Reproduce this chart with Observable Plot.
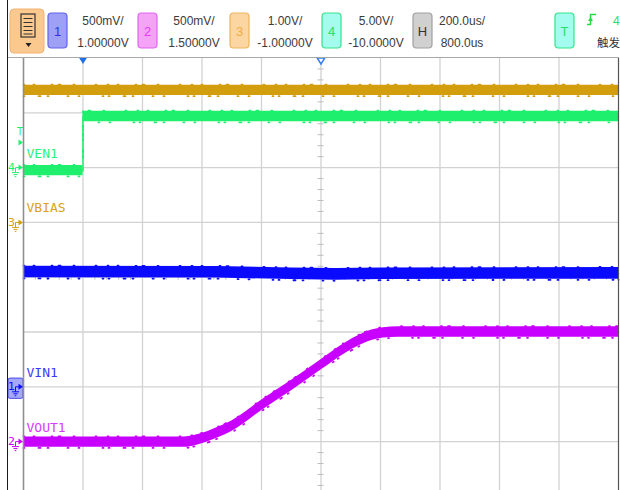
<!DOCTYPE html>
<html>
<head>
<meta charset="utf-8">
<script src="https://cdn.jsdelivr.net/npm/d3@7"></script>
<script src="https://cdn.jsdelivr.net/npm/@observablehq/plot@0.6"></script>
<style>
  html, body { margin: 0; padding: 0; background: #fff; overflow: hidden; }
  #scope { position: relative; width: 620px; height: 490px; background: #fff; }
  #head { position: absolute; left: 0; top: 0; }
  #screen { position: absolute; left: 0; top: 57px; }
  .edge-v { position: absolute; left: 7px; top: 0; width: 1px; height: 490px; background: #1a1a1a; }
  .edge-h { position: absolute; left: 8px; top: 57px; width: 610px; height: 1px; background: #a8a8a8; }
</style>
</head>
<body>
<div id="scope">
  <div id="head"></div>
  <div id="screen"></div>
  <div class="edge-v"></div>
  <div class="edge-h"></div>
</div>
<script>
// ---- channel setup ----
const channelIds   = [1, 2, 3, 4];
const channelNames = ["VIN1", "VOUT1", "VBIAS", "VEN1"];
const voltsPerDiv  = [0.5, 0.5, 1.0, 5.0];
const centerVolts  = [1.0, 1.5, -1.0, -10.0];
const traceColors  = ["#0a0aff", "#c800ff", "#d29e0e", "#1ef06e"];
const labelColors  = ["#3c3cff", "#d43cff", "#d8a21a", "#30ef7c"];
const boxFills     = ["#9da0f5", "#f4a3f7", "#fbd5a2", "#a4fcee"];
const boxStrokes   = ["#6262e6", "#e066f0", "#edb55e", "#34e38a"];
const boxText      = ["#3030e0", "#e040f0", "#f0ae48", "#25de6d"];
const bandHalfPx   = [5.8, 5.2, 5.2, 5.2];

// ---- timebase and trigger ----
const usPerDiv = 200;
const delayUs = 800;
const triggerChannel = 4;
const triggerVolts = 2.3;

// ---- captured traces: [time in µs after trigger, volts] ----
const traceVin1  = [[-200, 1.047], [450, 1.045], [700, 1.031], [850, 1.026], [1000, 1.031], [1800, 1.035]];
const traceVout1 = [[-200, -0.005], [340, -0.005], [380, 0.012], [420, 0.045], [460, 0.09], [500, 0.14],
                    [600, 0.33], [700, 0.51], [800, 0.70], [880, 0.85], [930, 0.925], [970, 0.97],
                    [1010, 0.992], [1060, 1.0], [1800, 1.0]];
const traceVbias = [[-200, 2.41], [1800, 2.41]];
const traceVen1  = [[-200, -0.28], [0, -0.28], [0, 4.66], [1800, 4.66]];
const traces = [traceVin1, traceVout1, traceVbias, traceVen1];

// ---- screen geometry ----
const W = 620, H = 433, mTop = 0.5, mLeft = 23, mRight = 2, divPx = 54.8;
const yMin = 4 - (H - mTop) / divPx;
const tMin = delayUs - 5 * usPerDiv, tMax = delayUs + 5 * usPerDiv;
const toDiv = (i, v) => (v - centerVolts[i]) / voltsPerDiv[i];

const rows = traces.map((tr, i) => tr.map(([t, v]) => ({t, div: toDiv(i, v)})));
const markers = channelIds.map((id, i) => ({
  id, name: channelNames[i], color: traceColors[i], label: labelColors[i], g: toDiv(i, 0)
}));
const trigDiv = toDiv(triggerChannel - 1, triggerVolts);

// little glyphs for the screen edge
const groundSymbol = { draw(c) {
  c.moveTo(4, 0); c.lineTo(0, 0); c.lineTo(0, 5);
  c.moveTo(-3.5, 5); c.lineTo(3.5, 5);
  c.moveTo(-2, 7); c.lineTo(2, 7);
  c.moveTo(-0.8, 9); c.lineTo(0.8, 9);
}};
const rightTri = { draw(c) { c.moveTo(-2, -3); c.lineTo(2.5, 0); c.lineTo(-2, 3); c.closePath(); } };
const downTri  = { draw(c) { c.moveTo(-3.8, 0); c.lineTo(3.8, 0); c.lineTo(0, 6); c.closePath(); } };

// acquisition noise: a solid core band with sparse spikes along both edges
const spikeTop = "1 9 1 17 1 6 2 13 1 21 1 11";
const spikeBottom = "1 14 2 7 1 19 1 10 1 23 1 5";
const band = (i, curve) => {
  const h = bandHalfPx[i] / divPx;
  return [
    Plot.areaY(rows[i], {x: "t", y1: d => d.div - h, y2: d => d.div + h, fill: traceColors[i], curve}),
    Plot.line(rows[i], {x: "t", y: "div", dy: -bandHalfPx[i] - 0.6, stroke: traceColors[i], strokeWidth: 1.8,
      strokeDasharray: spikeTop, curve}),
    Plot.line(rows[i], {x: "t", y: "div", dy: bandHalfPx[i] + 0.6, stroke: traceColors[i], strokeWidth: 1.8,
      strokeDasharray: spikeBottom, curve}),
    Plot.line(rows[i], {x: "t", y: "div", stroke: traceColors[i], strokeWidth: 1.5, curve})
  ];
};

const minorY = d3.range(-19, 20).filter(k => k % 5 !== 0).map(k => k / 5);
const minorX = d3.range(-24, 25).filter(k => k % 5 !== 0).map(k => delayUs + k * usPerDiv / 5);

const screen = Plot.plot({
  width: W, height: H,
  marginTop: mTop, marginLeft: mLeft, marginRight: mRight, marginBottom: 0,
  x: {domain: [tMin, tMax], axis: null},
  y: {domain: [yMin, 4], axis: null},
  style: {background: "white", overflow: "visible"},
  marks: [
    Plot.ruleX(d3.range(tMin + usPerDiv, tMax, usPerDiv), {stroke: "#d2d2d2", strokeWidth: 1.3}),
    Plot.ruleY(d3.range(-3, 4), {stroke: "#d2d2d2", strokeWidth: 1.3}),
    Plot.ruleY(minorY, {x1: delayUs, x2: delayUs, insetLeft: -3, insetRight: -3, stroke: "#bdbdbd"}),
    Plot.ruleX(minorX, {y1: 0, y2: 0, insetTop: -3, insetBottom: -3, stroke: "#bdbdbd"}),
    ...band(2, "linear"),
    ...band(3, "linear"),
    ...band(0, "linear"),
    ...band(1, "monotone-x"),
    // channel names
    Plot.text(markers, {x: tMin, y: "g", text: "name", dx: 3, dy: -10, textAnchor: "start", lineAnchor: "bottom",
      fill: "label", fontSize: 13, fontFamily: "DejaVu Sans Mono"}),
    // selected channel highlight
    Plot.rect(markers.filter(d => d.id === 1), {x1: tMin, x2: tMin, y1: d => d.g - 0.22, y2: d => d.g + 0.15,
      insetLeft: -15, insetRight: 0, fill: "#a5a8f7", stroke: "#4a4ae8", rx: 2}),
    // ground markers
    Plot.text(markers, {x: tMin, y: "g", text: d => String(d.id), dx: -12, fill: "color", fontSize: 11,
      fontFamily: "DejaVu Sans"}),
    Plot.dot(markers, {x: tMin, y: "g", dx: -3, symbol: rightTri, fill: "color", stroke: "none"}),
    Plot.dot(markers, {x: tMin, y: "g", dx: -8, symbol: groundSymbol, fill: "none", stroke: "color", strokeWidth: 1}),
    // trigger level
    Plot.text([trigDiv], {x: tMin, y: d => d, text: ["T"], dx: -3.5, dy: -11, fill: traceColors[3], fontSize: 10,
      fontFamily: "DejaVu Sans"}),
    Plot.dot([trigDiv], {x: tMin, y: d => d, dx: -3, symbol: rightTri, fill: traceColors[3], stroke: "none"}),
    // trigger time and delay markers
    Plot.dot([0], {x: d => d, frameAnchor: "top", symbol: downTri, fill: "#1f6feb", stroke: "none"}),
    Plot.dot([delayUs], {x: d => d, frameAnchor: "top", symbol: downTri, fill: "white", stroke: "#3a7ff2", strokeWidth: 1.5}),
    // screen border
    Plot.ruleX([tMin], {stroke: "#8f8f8f", strokeWidth: 1.6}),
    Plot.ruleX([tMax], {stroke: "#555", strokeWidth: 1.2})
  ]
});
document.getElementById("screen").appendChild(screen);

// ---- status bar ----
const fmtScale = v => v < 1 ? `${v * 1000}mV/` : `${v.toFixed(2)}V/`;
const fmtOffset = v => `${v.toPrecision(6)}V`;
const boxX = [48, 138, 230, 322];
const textX = [103, 194, 285, 376];
const head = d3.create("svg").attr("width", 620).attr("height", 57)
  .style("font-family", "'Liberation Sans', Arial, sans-serif").style("font-size", "12px");

// menu button
const menu = head.append("g");
menu.append("rect").attr("x", 10).attr("y", 9).attr("width", 34).attr("height", 44).attr("rx", 4)
  .attr("fill", "#fbc88e").attr("stroke", "#efb374");
menu.append("rect").attr("x", 21).attr("y", 14).attr("width", 14).attr("height", 23)
  .attr("fill", "none").attr("stroke", "#333").attr("stroke-width", 1.2);
[18.5, 22.5, 26.5, 30.5, 34].forEach(y => menu.append("line").attr("x1", 23.5).attr("x2", 32.5)
  .attr("y1", y).attr("y2", y).attr("stroke", "#333").attr("stroke-width", 1));
menu.append("path").attr("d", "M25.5,43L31.5,43L28.5,47Z").attr("fill", "#222");

function badge(x, label, fill, stroke, color) {
  head.append("rect").attr("x", x).attr("y", 13).attr("width", 19).attr("height", 35).attr("rx", 3.5)
    .attr("fill", fill).attr("stroke", stroke).attr("stroke-width", 1.2);
  head.append("text").attr("x", x + 9.5).attr("y", 35.5).attr("text-anchor", "middle")
    .attr("font-size", 13).attr("fill", color).text(label);
}
function pair(x, a, b) {
  head.append("text").attr("x", x).attr("y", 24.5).attr("text-anchor", "middle").attr("fill", "#3a3a3a").text(a);
  head.append("text").attr("x", x).attr("y", 46.5).attr("text-anchor", "middle").attr("fill", "#3a3a3a").text(b);
}
channelIds.forEach((id, i) => {
  badge(boxX[i], String(id), boxFills[i], boxStrokes[i], boxText[i]);
  pair(textX[i], fmtScale(voltsPerDiv[i]), fmtOffset(centerVolts[i]));
});
badge(413, "H", "#d0d0d0", "#a0a0a0", "#333");
pair(462, `${usPerDiv.toFixed(1)}us/`, `${delayUs.toFixed(1)}us`);
badge(555, "T", boxFills[3], boxStrokes[3], boxText[3]);
head.append("path").attr("d", "M587,24.5H590.5V14.5H596").attr("fill", "none")
  .attr("stroke", "#22dd44").attr("stroke-width", 1.5);
head.append("path").attr("d", "M588,21L593,21L590.5,17Z").attr("fill", "#22dd44");
head.append("text").attr("x", 613).attr("y", 24.5).attr("fill", boxText[3]).text(String(triggerChannel));
head.append("text").attr("x", 597).attr("y", 46.5).attr("fill", "#333")
  .style("font-family", "'Noto Sans CJK SC', sans-serif").attr("font-size", 11.5).text("触发");
document.getElementById("head").appendChild(head.node());
</script>
</body>
</html>
